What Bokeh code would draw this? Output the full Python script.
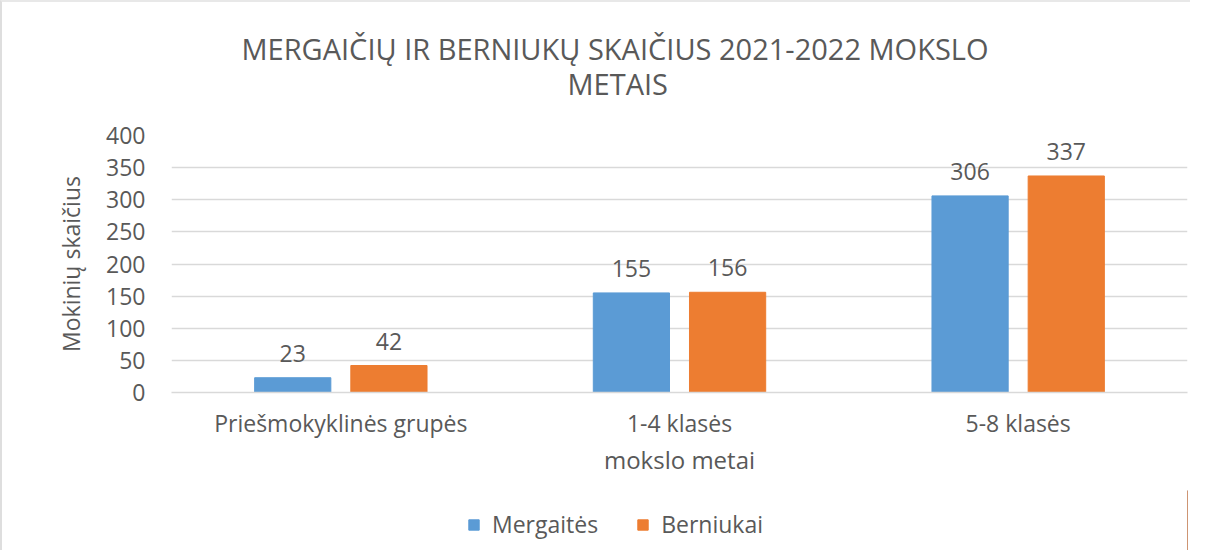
from bokeh.plotting import figure
from bokeh.layouts import column
from bokeh.models import ColumnDataSource, FactorRange, Legend, LegendItem, Title
from bokeh.transform import dodge
from bokeh.core.properties import value
from bokeh.embed import file_html
from bokeh.resources import INLINE

categories = ["Priešmokyklinės grupės", "1-4 klasės", "5-8 klasės"]
mergaites = [23, 155, 306]
berniukai = [42, 156, 337]
series_names = ["Mergaitės", "Berniukai"]
y_ticks = [0, 50, 100, 150, 200, 250, 300, 350, 400]

BLUE = "#5B9BD5"
ORANGE = "#ED7D31"
TXT = "#595959"
FONT = "Open Sans"

src = ColumnDataSource(dict(
    cat=categories,
    m=mergaites,
    b=berniukai,
    ml=[str(v) for v in mergaites],
    bl=[str(v) for v in berniukai],
))

p = figure(
    x_range=FactorRange(factors=categories),
    y_range=(0, 400),
    frame_width=1014, frame_height=255,
    output_backend="svg", toolbar_location=None,
    min_border_left=169, min_border_right=5,
    min_border_top=133, min_border_bottom=100,
)
p.title = None
p.styles = {"border-top": "2px solid #e8e8e8", "border-left": "2px solid #dedede"}

# Titles (later added = farther from plot); first a blank spacer
p.add_layout(Title(text=" ", text_font_size="2px", standoff=29), "above")
p.add_layout(Title(text="METAIS", align="left", offset=396,
                   text_font=FONT, text_font_size="29px",
                   text_font_style="normal", text_color=TXT, standoff=0), "above")
p.add_layout(Title(text="MERGAIČIŲ IR BERNIUKŲ SKAIČIUS 2021-2022 MOKSLO", align="left",
                   offset=70, text_font=FONT, text_font_size="29px",
                   text_font_style="normal", text_color=TXT, standoff=-12), "above")

off = 0.142
w = 0.225
p.vbar(x=dodge("cat", -off, range=p.x_range), top="m", width=w, source=src,
       fill_color=BLUE, line_color=BLUE)
p.vbar(x=dodge("cat", off, range=p.x_range), top="b", width=w, source=src,
       fill_color=ORANGE, line_color=ORANGE)

p.text(x=dodge("cat", -off, range=p.x_range), y="m", text="ml", source=src,
       text_align="center", text_baseline="bottom", y_offset=-16,
       text_font=value(FONT), text_font_size="23px", text_color=TXT)
p.text(x=dodge("cat", off, range=p.x_range), y="b", text="bl", source=src,
       text_align="center", text_baseline="bottom", y_offset=-16,
       text_font=value(FONT), text_font_size="23px", text_color=TXT)

# grid
p.xgrid.grid_line_color = None
p.ygrid.grid_line_color = "#d9d9d9"
p.ygrid.grid_line_width = 1.5
p.yaxis.ticker = y_ticks
p.outline_line_color = None

# axes
p.yaxis.axis_line_color = None
p.yaxis.major_tick_line_color = None
p.yaxis.minor_tick_line_color = None
p.yaxis.major_tick_out = 0
p.yaxis.minor_tick_out = 0
p.yaxis.major_label_text_font = FONT
p.yaxis.major_label_text_font_size = "23px"
p.yaxis.major_label_text_color = TXT
p.yaxis.major_label_standoff = 26
p.yaxis.axis_label = "Mokinių skaičius"
p.yaxis.axis_label_text_font = FONT
p.yaxis.axis_label_text_font_size = "23px"
p.yaxis.axis_label_text_font_style = "normal"
p.yaxis.axis_label_text_color = TXT
p.yaxis.axis_label_standoff = 16

p.xaxis.axis_line_color = "#d9d9d9"
p.xaxis.axis_line_width = 1.5
p.xaxis.major_tick_line_color = None
p.xaxis.minor_tick_line_color = None
p.xaxis.major_tick_out = 0
p.xaxis.minor_tick_out = 0
p.xaxis.major_label_text_font = FONT
p.xaxis.major_label_text_font_size = "23px"
p.xaxis.major_label_text_color = TXT
p.xaxis.major_label_standoff = 14
p.xaxis.axis_label = "mokslo metai"
p.xaxis.axis_label_text_font = FONT
p.xaxis.axis_label_text_font_size = "24px"
p.xaxis.axis_label_text_font_style = "normal"
p.xaxis.axis_label_text_color = TXT
p.xaxis.axis_label_standoff = 1

# legend strip below the chart
p2 = figure(
    x_range=(0, 1), y_range=(0, 1),
    frame_width=1014, frame_height=60,
    output_backend="svg", toolbar_location=None,
    x_axis_location=None, y_axis_location=None,
    min_border_left=169, min_border_right=5,
    min_border_top=0, min_border_bottom=0,
)
p2.title = None
p2.grid.visible = False
p2.outline_line_color = None
p2.styles = {"border-left": "2px solid #dedede"}

# legend proxies: placed outside the visible range so only their legend swatches show
lr1 = p2.vbar(x=[5], top=[mergaites[0]], width=0.1, fill_color=BLUE, line_color=BLUE)
lr2 = p2.vbar(x=[5], top=[berniukai[0]], width=0.1, fill_color=ORANGE, line_color=ORANGE)

legend = Legend(items=[LegendItem(label=series_names[0], renderers=[lr1]),
                       LegendItem(label=series_names[1], renderers=[lr2])],
                orientation="horizontal", location=(296, 10),
                label_text_font=FONT, label_text_font_size="23px",
                label_text_color=TXT, glyph_width=13, glyph_height=13,
                label_standoff=12, spacing=38, padding=0, margin=0,
                border_line_color=None, background_fill_alpha=0)
p2.add_layout(legend, "center")

layout = column(p, p2, spacing=0)
open("out.html", "w").write(file_html(layout, INLINE))
